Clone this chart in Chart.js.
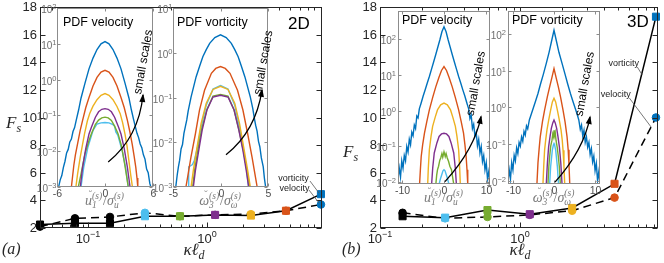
<!DOCTYPE html>
<html lang="en">
<head>
<meta charset="UTF-8">
<title>Flatness vs kappa l_d, 2D and 3D</title>
<script src="https://cdn.jsdelivr.net/npm/chart.js@4.4.0/dist/chart.umd.min.js"></script>
<style>
  body { margin: 0; background: #fff; }
  #wrap { position: relative; width: 664px; height: 263px; background: #fff; }
  #wrap canvas { position: absolute; left: 0; top: 0; }
</style>
</head>
<body>
<div id="wrap">
  <canvas id="mainA" width="664" height="263"></canvas>
  <canvas id="mainB" width="664" height="263"></canvas>
  <canvas id="insA1" width="664" height="263"></canvas>
  <canvas id="insA2" width="664" height="263"></canvas>
  <canvas id="insB1" width="664" height="263"></canvas>
  <canvas id="insB2" width="664" height="263"></canvas>
</div>
<script>
// ---- main panels: flatness F_s against kappa*l_d ----
const kldA  = [0.0395, 0.0777, 0.153, 0.301, 0.593, 1.17, 2.34, 4.61, 9.07];
const vortA = [2.25, 2.35, 2.35, 2.85, 2.85, 2.95, 2.9, 3.25, 4.45];
const velA  = [2.1, 2.7, 2.8, 3.1, 2.85, 2.95, 3.0, 3.25, 3.7];
const colA  = ['#000', '#000', '#000', '#4DBEEE', '#77AC30', '#7E2F8E', '#EDB120', '#D95319', '#0072BD'];

const kldB  = [0.145, 0.292, 0.586, 1.175, 2.36, 4.74, 9.37];
const vortB = [2.85, 2.75, 3.3, 3.0, 3.45, 5.2, 17.3];
const velB  = [3.1, 2.7, 2.8, 2.95, 3.25, 4.2, 10.0];
const colB  = ['#000', '#4DBEEE', '#77AC30', '#7E2F8E', '#EDB120', '#D95319', '#0072BD'];

const yTicksMain = [2, 4, 6, 8, 10, 12, 14, 16, 18];
const xLabelsMain = [0.1, 1];

// ---- inset PDFs: [x, log10 pdf] ----
const vel2dBlue = [[-6.0,-3.4],[-5.8,-3.0],[-5.6,-2.8],[-5.4,-2.68],[-5.2,-2.45],[-5.0,-2.28],[-4.8,-2.05],[-4.6,-1.95],[-4.4,-1.74],[-4.2,-1.66],[-4.0,-1.45],[-3.8,-1.34],[-3.6,-1.14],[-3.3,-0.85],[-3.0,-0.52],[-2.5,-0.1],[-2.0,0.3],[-1.5,0.6],[-1.0,0.84],[-0.5,1.0],[0,1.06],[0.5,1.0],[1.0,0.84],[1.5,0.6],[2.0,0.3],[2.5,-0.1],[3.0,-0.52],[3.3,-0.85],[3.6,-1.14],[3.8,-1.32],[4.0,-1.5],[4.2,-1.62],[4.4,-1.8],[4.6,-1.9],[4.8,-2.1],[5.0,-2.22],[5.2,-2.5],[5.4,-2.6],[5.6,-2.9],[5.8,-3.05],[6.0,-3.4]];
const vel2dRed = [[-4.3,-3.2],[-4.2,-3.0],[-4.05,-2.7],[-3.9,-2.4],[-3.7,-2.1],[-3.4,-1.76],[-3.1,-1.42],[-2.8,-1.14],[-2.4,-0.78],[-2.0,-0.5],[-1.5,-0.18],[-1.0,0.06],[-0.5,0.21],[0,0.26],[0.5,0.21],[1.0,0.06],[1.5,-0.18],[2.0,-0.5],[2.4,-0.78],[2.8,-1.14],[3.1,-1.45],[3.4,-1.8],[3.65,-2.15],[3.85,-2.45],[4.0,-2.75],[4.1,-3.0],[4.2,-3.2]];
const vel2dYellow = [[-3.75,-3.2],[-3.64,-3.0],[-3.43,-2.64],[-3.1,-2.17],[-2.8,-1.8],[-2.55,-1.5],[-2.2,-1.15],[-1.9,-0.94],[-1.5,-0.74],[-1.0,-0.56],[-0.5,-0.44],[0,-0.39],[0.5,-0.44],[1.0,-0.56],[1.5,-0.75],[1.9,-0.95],[2.2,-1.2],[2.5,-1.52],[2.75,-1.85],[2.95,-2.2],[3.2,-2.64],[3.43,-3.0],[3.55,-3.2]];
const vel2dPurple = [[-3.2,-3.2],[-3.09,-3.0],[-2.8,-2.45],[-2.4,-1.92],[-2.0,-1.52],[-1.7,-1.33],[-1.2,-1.05],[-0.8,-0.9],[-0.4,-0.83],[0,-0.81],[0.4,-0.83],[0.8,-0.9],[1.2,-1.05],[1.7,-1.33],[2.0,-1.52],[2.4,-1.92],[2.8,-2.45],[3.13,-3.0],[3.25,-3.2]];
const vel2dGreen = [[-3.45,-3.2],[-3.34,-3.0],[-3.0,-2.64],[-2.5,-2.07],[-2.0,-1.7],[-1.7,-1.51],[-1.2,-1.25],[-0.8,-1.13],[-0.4,-1.07],[0,-1.05],[0.4,-1.07],[0.8,-1.14],[1.2,-1.3],[1.63,-1.51],[2.0,-1.8],[2.23,-2.07],[2.45,-2.35],[2.66,-2.64],[2.91,-3.0],[3.0,-3.2]];
const vel2dCyan = [[-3.1,-3.2],[-3.0,-3.0],[-2.66,-2.45],[-2.14,-1.89],[-1.5,-1.42],[-1.0,-1.24],[-0.5,-1.21],[0,-1.2],[0.5,-1.21],[1.0,-1.26],[1.2,-1.3],[1.35,-1.46],[1.6,-1.55],[2.14,-1.98],[2.57,-2.45],[2.91,-3.0],[3.0,-3.2]];

const vort2dBlue = [[-4.85,-3.2],[-4.71,-3.0],[-4.55,-2.72],[-4.43,-2.55],[-4.3,-2.4],[-4.15,-2.15],[-4.0,-2.05],[-3.85,-1.8],[-3.7,-1.65],[-3.55,-1.5],[-3.4,-1.3],[-3.1,-0.99],[-2.57,-0.54],[-2.2,-0.3],[-1.86,-0.09],[-1.5,0.07],[-1.14,0.21],[-0.6,0.34],[0,0.40],[0.6,0.34],[1.14,0.21],[1.5,0.07],[1.86,-0.09],[2.2,-0.3],[2.57,-0.54],[3.14,-0.99],[3.4,-1.25],[3.55,-1.45],[3.7,-1.62],[3.85,-1.75],[4.0,-1.98],[4.14,-2.1],[4.3,-2.35],[4.5,-2.55],[4.62,-2.8],[4.75,-3.0],[4.9,-3.2]];
const vort2dRed = [[-3.75,-3.2],[-3.64,-3.0],[-3.46,-2.78],[-3.11,-2.33],[-2.64,-1.81],[-2.21,-1.28],[-1.68,-0.84],[-0.96,-0.46],[-0.5,-0.35],[0,-0.31],[0.5,-0.35],[1.0,-0.46],[1.79,-0.84],[2.36,-1.28],[2.86,-1.81],[3.32,-2.33],[3.68,-2.78],[3.86,-3.0],[3.95,-3.2]];
const vort2dYellow = [[-3.2,-3.2],[-3.1,-3.0],[-2.86,-2.63],[-2.46,-2.1],[-2.04,-1.58],[-1.5,-1.13],[-0.79,-0.82],[0,-0.75],[0.79,-0.82],[1.5,-1.13],[2.0,-1.58],[2.43,-2.1],[2.86,-2.63],[3.14,-3.0],[3.25,-3.2]];
const vort2dPurple = [[-2.95,-3.2],[-2.86,-3.0],[-2.64,-2.63],[-2.29,-2.18],[-1.93,-1.73],[-1.43,-1.28],[-0.79,-0.99],[0,-0.95],[0.79,-0.99],[1.43,-1.28],[1.93,-1.73],[2.36,-2.18],[2.71,-2.63],[2.96,-3.0],[3.05,-3.2]];
const vort2dGreen = [[-3.0,-3.2],[-2.93,-3.0],[-2.71,-2.6],[-2.36,-2.14],[-1.96,-1.69],[-1.43,-1.27],[-0.79,-0.97],[0,-0.93],[0.79,-0.97],[1.43,-1.28],[1.96,-1.74],[2.43,-2.21],[2.82,-2.67],[3.07,-3.0],[3.15,-3.2]];
const vort2dCyan = [[-3.4,-3.2],[-3.35,-2.55],[-3.1,-2.52],[-2.95,-2.5],[-2.75,-2.4],[-2.4,-2.1],[-2.04,-1.66],[-1.5,-1.17],[-0.79,-0.81],[0,-0.73],[0.79,-0.81],[1.5,-1.17],[2.0,-1.66],[2.36,-2.1],[2.71,-2.55],[2.96,-3.0],[3.05,-3.2]];

const vel3dBlue = [[-11,-1.9],[-10.7,-1.6],[-10.4,-1.85],[-10.1,-1.4],[-9.8,-1.6],[-9.5,-1.25],[-9.2,-1.4],[-8.9,-1.0],[-8.6,-1.15],[-8.3,-0.8],[-8.0,-0.95],[-7.7,-0.6],[-7.4,-0.7],[-7.1,-0.4],[-6.8,-0.5],[-6.5,-0.15],[-6.2,-0.2],[-5.9,0.05],[-5.5,0.2],[-5,0.4],[-4.5,0.58],[-4,0.77],[-3.5,0.95],[-3,1.15],[-2.5,1.35],[-2,1.55],[-1.5,1.76],[-1,1.97],[-0.5,2.2],[0,2.34],[0.5,2.2],[1,1.97],[1.5,1.76],[2,1.55],[2.5,1.35],[3,1.15],[3.5,0.95],[4,0.77],[4.5,0.58],[5,0.4],[5.5,0.2],[5.9,0.05],[6.2,-0.22],[6.5,-0.12],[6.8,-0.5],[7.1,-0.38],[7.4,-0.72],[7.7,-0.6],[8.0,-0.98],[8.3,-0.8],[8.6,-1.18],[8.9,-1.0],[9.2,-1.42],[9.5,-1.25],[9.8,-1.65],[10.1,-1.45],[10.4,-1.9],[10.7,-1.7],[11,-2.0]];
const vel3dRed = [[-6.0,-2.3],[-5.84,-2.05],[-5.65,-1.65],[-5.45,-1.28],[-5.1,-0.95],[-4.67,-0.63],[-4.1,-0.3],[-3.5,0.02],[-2.7,0.37],[-1.95,0.67],[-1.2,0.93],[-0.6,1.12],[0,1.23],[0.6,1.12],[1.2,0.93],[1.95,0.67],[2.7,0.37],[3.5,0.02],[4.1,-0.3],[4.67,-0.63],[5.0,-0.95],[5.29,-1.28],[5.5,-1.65],[5.68,-2.05],[5.8,-2.3]];
const vel3dYellow = [[-4.0,-2.3],[-3.9,-2.05],[-3.75,-1.6],[-3.5,-1.09],[-3.1,-0.72],[-2.72,-0.44],[-2.1,-0.18],[-1.56,0.02],[-0.8,0.16],[0,0.21],[0.8,0.16],[1.56,0.02],[2.1,-0.18],[2.72,-0.44],[3.1,-0.72],[3.5,-1.09],[3.75,-1.6],[3.9,-2.05],[4.0,-2.3]];
const vel3dPurple = [[-3.1,-2.3],[-2.96,-2.05],[-2.7,-1.6],[-2.33,-1.18],[-1.7,-0.9],[-1.17,-0.72],[-0.6,-0.65],[0,-0.63],[0.6,-0.65],[1.17,-0.72],[1.7,-0.9],[2.33,-1.18],[2.7,-1.6],[2.96,-2.05],[3.1,-2.3]];
const vel3dGreen = [[-2.1,-2.3],[-1.95,-2.05],[-1.75,-1.8],[-1.56,-1.65],[-1.3,-1.55],[-1.0,-1.38],[-0.78,-1.32],[-0.5,-1.2],[-0.3,-1.3],[0,-1.15],[0.3,-1.28],[0.5,-1.2],[0.78,-1.32],[1.1,-1.42],[1.4,-1.55],[1.79,-1.65],[2.05,-1.85],[2.33,-2.05],[2.45,-2.3]];
const vel3dCyan = [[-1.3,-2.3],[-1.17,-2.05],[-0.85,-1.9],[-0.54,-1.79],[-0.25,-1.68],[0,-1.65],[0.25,-1.68],[0.54,-1.79],[0.85,-1.9],[1.17,-2.05],[1.3,-2.3]];

const vort3dBlue = [[-11.2,-2.0],[-10.9,-1.7],[-10.6,-1.95],[-10.3,-1.5],[-10.0,-1.7],[-9.7,-1.3],[-9.4,-1.45],[-9.1,-1.1],[-8.8,-1.25],[-8.5,-0.95],[-8.2,-1.05],[-7.9,-0.8],[-7.6,-0.92],[-7.3,-0.65],[-7.0,-0.75],[-6.7,-0.5],[-6.4,-0.58],[-6.0,-0.34],[-5.5,-0.17],[-5,0.0],[-4.5,0.17],[-3.9,0.38],[-3.3,0.63],[-2.6,0.9],[-1.88,1.2],[-1.2,1.5],[-0.6,1.8],[0,2.1],[0.6,1.8],[1.2,1.5],[1.96,1.2],[2.7,0.9],[3.35,0.63],[4.0,0.38],[4.6,0.17],[5.1,0.0],[5.6,-0.17],[6.04,-0.34],[6.4,-0.6],[6.7,-0.48],[7.0,-0.78],[7.3,-0.62],[7.6,-0.95],[7.9,-0.8],[8.2,-1.08],[8.5,-0.95],[8.8,-1.28],[9.1,-1.12],[9.4,-1.48],[9.7,-1.32],[10.0,-1.72],[10.3,-1.52],[10.6,-1.98],[10.9,-1.75],[11.2,-2.1]];
const vort3dRed = [[-4.3,-2.3],[-4.16,-2.09],[-3.9,-1.5],[-3.6,-1.1],[-3.35,-0.8],[-2.8,-0.38],[-2.29,-0.07],[-1.6,0.3],[-1.06,0.56],[-0.5,0.82],[0,1.06],[0.5,0.82],[1.06,0.56],[1.6,0.28],[2.2,-0.07],[2.7,-0.4],[3.18,-0.8],[3.45,-1.15],[3.65,-1.55],[3.84,-2.09],[3.95,-2.3]];
const vort3dYellow = [[-2.8,-2.3],[-2.69,-2.09],[-2.5,-1.6],[-2.29,-1.16],[-2.0,-0.86],[-1.71,-0.61],[-1.25,-0.32],[-0.82,-0.07],[-0.4,0.15],[0,0.25],[0.4,0.15],[0.82,-0.07],[1.25,-0.32],[1.71,-0.61],[2.0,-0.88],[2.2,-1.16],[2.42,-1.6],[2.61,-2.09],[2.7,-2.3]];
const vort3dPurple = [[-2.0,-2.3],[-1.88,-2.09],[-1.6,-1.5],[-1.31,-1.07],[-0.95,-0.78],[-0.65,-0.57],[-0.3,-0.42],[0,-0.34],[0.3,-0.42],[0.65,-0.57],[0.95,-0.78],[1.31,-1.07],[1.65,-1.5],[1.96,-2.09],[2.05,-2.3]];
const vort3dGreen = [[-1.6,-2.3],[-1.47,-2.09],[-1.25,-1.6],[-1.06,-1.34],[-0.8,-1.05],[-0.49,-0.89],[-0.3,-0.72],[-0.1,-0.8],[0,-0.62],[0.15,-0.75],[0.3,-0.68],[0.49,-0.89],[0.8,-1.1],[1.06,-1.34],[1.3,-1.62],[1.55,-2.09],[1.65,-2.3]];
const vort3dCyan = [[-1.2,-2.3],[-1.06,-2.09],[-0.82,-1.61],[-0.41,-1.16],[-0.15,-1.02],[0,-0.98],[0.15,-1.02],[0.41,-1.16],[0.82,-1.61],[1.1,-2.09],[1.2,-2.3]];

const pdfColors = ['#0072BD', '#D95319', '#EDB120', '#7E2F8E', '#77AC30', '#4DBEEE'];

const SANS = '"Liberation Sans", Arial, sans-serif';
const SERIF = '"Liberation Serif", "DejaVu Serif", serif';

// draw a row of text pieces (with optional sub/superscript stacks)
function drawMath(ctx, parts, x, y, align, color) {
  const ws = parts.map(p => {
    ctx.font = p.f;
    if (p.t !== undefined) return ctx.measureText(p.t).width;
    return Math.max(ctx.measureText(p.sub || '').width, ctx.measureText(p.sup || '').width) + 1;
  });
  const w = ws.reduce((s, v) => s + v, 0);
  let cx = align === 'center' ? x - w / 2 : align === 'right' ? x - w : x;
  ctx.fillStyle = color;
  ctx.textAlign = 'left';
  ctx.textBaseline = 'alphabetic';
  parts.forEach((p, i) => {
    ctx.font = p.f;
    if (p.t !== undefined) {
      ctx.fillText(p.t, cx, y + (p.dy || 0));
      if (p.breve) {
        ctx.font = 'italic 10px ' + SERIF;
        ctx.textAlign = 'center';
        ctx.fillText('˘', cx + ws[i] / 2 + 1, y - 7);
        ctx.textAlign = 'left';
      }
    } else {
      if (p.sub) ctx.fillText(p.sub, cx, y + 3);
      if (p.sup) ctx.fillText(p.sup, cx, y - 6);
    }
    cx += ws[i];
  });
}

function drawPow10(ctx, e, x, y, bSize, eSize, raise, align, color) {
  const exp = e < 0 ? '−' + (-e) : String(e);
  drawMath(ctx, [{t: '10', f: bSize + 'px ' + SANS}, {t: exp, f: eSize + 'px ' + SANS, dy: -raise}], x, y, align, color);
}

function mainDeco(cfg) {
  return {
    id: 'mainDeco',
    afterDraw(chart) {
      const {ctx, chartArea: a, scales: {x, y}} = chart;
      ctx.save();
      const L = Math.round(a.left) + 0.5, R = Math.round(a.right) - 0.5;
      const T = Math.round(a.top) + 0.5, B = Math.round(a.bottom) - 0.5;
      ctx.strokeStyle = '#262626';
      ctx.lineWidth = 1;
      ctx.strokeRect(L, T, R - L, B - T);

      ctx.font = '13px ' + SANS;
      ctx.fillStyle = '#262626';
      ctx.textAlign = 'right';
      ctx.textBaseline = 'middle';
      yTicksMain.forEach(v => {
        const py = Math.round(y.getPixelForValue(v)) + 0.5;
        ctx.beginPath();
        ctx.moveTo(L, py); ctx.lineTo(L + 5, py);
        ctx.moveTo(R, py); ctx.lineTo(R - 5, py);
        ctx.stroke();
        ctx.fillText(String(v), a.left - 3, py);
      });

      const lo = Math.floor(Math.log10(x.min)), hi = Math.ceil(Math.log10(x.max));
      for (let k = lo; k <= hi; k++) {
        for (let m = 1; m <= 9; m++) {
          const v = m * Math.pow(10, k);
          if (v < x.min || v > x.max) continue;
          const px = Math.round(x.getPixelForValue(v)) + 0.5;
          if (px < L + 2 || px > R - 2) continue;
          const len = m === 1 ? 5 : 3;
          ctx.beginPath();
          ctx.moveTo(px, B); ctx.lineTo(px, B - len);
          ctx.moveTo(px, T); ctx.lineTo(px, T + len);
          ctx.stroke();
        }
      }
      xLabelsMain.forEach(v => {
        drawPow10(ctx, Math.round(Math.log10(v)), x.getPixelForValue(v), 243, 13, 9, 6, 'center', '#262626');
      });

      // axis labels
      const I17 = 'italic 17px ' + SERIF, I12 = 'italic 12px ' + SERIF;
      drawMath(ctx, [{t: 'F', f: I17}, {t: 's', f: I12, dy: 4}], cfg.fsPos[0], cfg.fsPos[1], 'left', '#262626');
      drawMath(ctx, [{t: 'κℓ', f: I17}, {t: 'd', f: I12, dy: 4}], cfg.klPos[0], cfg.klPos[1], 'center', '#262626');
      drawMath(ctx, [{t: cfg.panel, f: 'italic 16px ' + SERIF}], cfg.panelPos[0], cfg.panelPos[1], 'left', '#262626');
      drawMath(ctx, [{t: cfg.dim, f: '17px ' + SANS}], cfg.dimPos[0], cfg.dimPos[1], 'left', '#000');

      // leader labels
      const P = p => [x.getPixelForValue(p[0]), y.getPixelForValue(p[1])];
      ctx.strokeStyle = '#555';
      ctx.lineWidth = 0.8;
      cfg.leaders.forEach(l => {
        const s = P(l[0]), e = P(l[1]);
        ctx.beginPath(); ctx.moveTo(s[0], s[1]); ctx.lineTo(e[0], e[1]); ctx.stroke();
      });
      cfg.notes.forEach(n => {
        const p = P(n.at);
        drawMath(ctx, [{t: n.text, f: '9px ' + SANS}], p[0], p[1], 'left', '#222');
      });
      ctx.restore();
    }
  };
}

function mainChart(id, area, xs, vort, vel, colors, xRange, cfg) {
  return new Chart(document.getElementById(id), {
    type: 'line',
    data: {
      datasets: [
        {
          label: 'velocity',
          data: xs.map((v, i) => ({x: v, y: vel[i]})),
          borderColor: '#000', borderWidth: 1.5, borderDash: [8, 5],
          pointStyle: 'circle', pointRadius: 3.8,
          pointBackgroundColor: colors, pointBorderColor: colors, pointBorderWidth: 1,
          clip: false
        },
        {
          label: 'vorticity',
          data: xs.map((v, i) => ({x: v, y: vort[i]})),
          borderColor: '#000', borderWidth: 1.5,
          pointStyle: 'rect', pointRadius: 5,
          pointBackgroundColor: colors, pointBorderColor: colors, pointBorderWidth: 1,
          clip: false
        }
      ]
    },
    options: {
      responsive: false, animation: false, devicePixelRatio: 1,
      layout: {padding: {left: area[0], top: area[1], right: 664 - area[2], bottom: 263 - area[3]}},
      plugins: {legend: {display: false}, tooltip: {enabled: false}},
      elements: {line: {tension: 0}},
      scales: {
        x: {type: 'logarithmic', min: xRange[0], max: xRange[1], display: false},
        y: {type: 'linear', min: 2, max: 18, display: false}
      }
    },
    plugins: [mainDeco(cfg)]
  });
}

function insetDeco(cfg) {
  return {
    id: 'insetDeco',
    beforeDraw(chart) {
      const {ctx, chartArea: a} = chart;
      ctx.save();
      ctx.fillStyle = '#fff';
      ctx.fillRect(a.left, a.top, a.right - a.left, a.bottom - a.top);
      ctx.restore();
    },
    afterDraw(chart) {
      const {ctx, chartArea: a, scales: {x, y}} = chart;
      ctx.save();
      const L = Math.round(a.left) + 0.5, R = Math.round(a.right) - 0.5;
      const T = Math.round(a.top) + 0.5, B = Math.round(a.bottom) - 0.5;
      ctx.strokeStyle = '#8c8c8c';
      ctx.lineWidth = 1;
      ctx.strokeRect(L, T, R - L, B - T);

      cfg.decades.forEach(e => {
        const py = Math.round(y.getPixelForValue(Math.pow(10, e))) + 0.5;
        ctx.beginPath();
        ctx.moveTo(L, py); ctx.lineTo(L + 3, py);
        ctx.moveTo(R, py); ctx.lineTo(R - 3, py);
        ctx.stroke();
        drawPow10(ctx, e, a.left - cfg.labelGap, py + 4.5, 10, 7.5, 4, 'right', '#6e6e6e');
      });
      cfg.xTicks.forEach(v => {
        const px = Math.round(x.getPixelForValue(v)) + 0.5;
        ctx.beginPath();
        ctx.moveTo(px, B); ctx.lineTo(px, B - 3);
        ctx.moveTo(px, T); ctx.lineTo(px, T + 3);
        ctx.stroke();
        drawMath(ctx, [{t: v < 0 ? '-' + (-v) : String(v), f: '10.5px ' + SANS}], px, a.bottom + 10, 'center', '#4d4d4d');
      });

      // x label  (breve variable / sigma)
      const I14 = 'italic 14px ' + SERIF, I9 = 'italic 9.5px ' + SERIF;
      drawMath(ctx, [
        {t: cfg.varName, f: I14, breve: true},
        {sub: cfg.varSub, sup: '(s)', f: I9},
        {t: '/', f: '14px ' + SERIF},
        {t: 'σ', f: I14},
        {sub: cfg.sigSub, sup: '(s)', f: I9}
      ], (a.left + a.right) / 2, a.bottom + 18, 'center', '#7a7a7a');

      // title
      drawMath(ctx, [{t: cfg.title, f: '12.5px ' + SANS}], a.left + cfg.titleOff[0], a.top + cfg.titleOff[1], 'left', '#000');

      // arrow and "small scales"
      const P = p => [x.getPixelForValue(p[0]), y.getPixelForValue(Math.pow(10, p[1]))];
      const s = P(cfg.arrow[0]), c = P(cfg.arrow[1]), e = P(cfg.arrow[2]);
      ctx.strokeStyle = '#000';
      ctx.fillStyle = '#000';
      ctx.lineWidth = 1.3;
      ctx.beginPath();
      ctx.moveTo(s[0], s[1]);
      ctx.quadraticCurveTo(c[0], c[1], e[0], e[1]);
      ctx.stroke();
      const ang = Math.atan2(e[1] - c[1], e[0] - c[0]);
      const hl = 7, hw = 3;
      ctx.beginPath();
      ctx.moveTo(e[0] + 1.5 * Math.cos(ang), e[1] + 1.5 * Math.sin(ang));
      ctx.lineTo(e[0] - hl * Math.cos(ang) + hw * Math.sin(ang), e[1] - hl * Math.sin(ang) - hw * Math.cos(ang));
      ctx.lineTo(e[0] - hl * Math.cos(ang) - hw * Math.sin(ang), e[1] - hl * Math.sin(ang) + hw * Math.cos(ang));
      ctx.closePath();
      ctx.fill();

      const tp = P(cfg.scalesAt);
      ctx.translate(tp[0], tp[1]);
      ctx.rotate(-80 * Math.PI / 180);
      ctx.font = '12px ' + SANS;
      ctx.textAlign = 'center';
      ctx.textBaseline = 'middle';
      ctx.fillText('small scales', 0, 0);
      ctx.restore();
    }
  };
}

function insetChart(id, area, xRange, yRange, curves, cfg) {
  return new Chart(document.getElementById(id), {
    type: 'line',
    data: {
      datasets: curves.map((c, i) => ({
        data: c.map(p => ({x: p[0], y: Math.pow(10, p[1])})),
        borderColor: pdfColors[i], borderWidth: 1.4, pointRadius: 0
      }))
    },
    options: {
      responsive: false, animation: false, devicePixelRatio: 1,
      layout: {padding: {left: area[0], top: area[1], right: 664 - area[2], bottom: 263 - area[3]}},
      plugins: {legend: {display: false}, tooltip: {enabled: false}},
      elements: {line: {tension: 0}},
      scales: {
        x: {type: 'linear', min: xRange[0], max: xRange[1], display: false},
        y: {type: 'logarithmic', min: yRange[0], max: yRange[1], display: false}
      }
    },
    plugins: [insetDeco(cfg)]
  });
}

mainChart('mainA', [40, 7, 322, 228], kldA, vortA, velA, colA, [0.0395, 9.26], {
  fsPos: [6, 128], klPos: [194, 255], panel: '(a)', panelPos: [2, 254], dim: '2D', dimPos: [288, 29],
  notes: [{text: 'vorticity', at: [3.98, 5.40]}, {text: 'velocity', at: [4.07, 4.68]}],
  leaders: [[[7.34, 5.40], [8.74, 4.53]], [[7.2, 4.75], [8.74, 3.81]]]
});
mainChart('mainB', [380, 7, 662, 228], kldB, vortB, velB, colB, [0.1, 9.69], {
  fsPos: [343, 157], klPos: [520, 255], panel: '(b)', panelPos: [342, 254], dim: '3D', dimPos: [627, 27],
  notes: [{text: 'vorticity', at: [4.30, 13.73]}, {text: 'velocity', at: [3.78, 11.48]}],
  leaders: [[[6.89, 13.66], [7.47, 13.08]], [[6.05, 11.41], [8.65, 9.31]]]
});

insetChart('insA1', [57, 8, 153, 187], [-6, 6], [1e-3, 1e2],
  [vel2dBlue, vel2dRed, vel2dYellow, vel2dPurple, vel2dGreen, vel2dCyan], {
    decades: [-3, -2, -1, 0, 1, 2], xTicks: [-6, 0, 6], labelGap: 0.5,
    varName: 'u', varSub: '1', sigSub: 'u', title: 'PDF velocity', titleOff: [6, 18],
    arrow: [[0.4, -2.3], [4.22, -1.61], [4.75, -0.43]], scalesAt: [4.81, 0.49]
  });
insetChart('insA2', [173, 8, 268, 187], [-5, 5], [1e-3, 1e1],
  [vort2dBlue, vort2dRed, vort2dYellow, vort2dPurple, vort2dGreen, vort2dCyan], {
    decades: [-3, -2, -1, 0, 1], xTicks: [-5, 0, 5], labelGap: 0.5,
    varName: 'ω', varSub: '3', sigSub: 'ω', title: 'PDF vorticity', titleOff: [4, 18],
    arrow: [[0.58, -2.28], [3.72, -1.75], [4.37, -0.83]], scalesAt: [4.53, -0.22]
  });
insetChart('insB1', [398, 11, 490, 184], [-11, 11], [0.009, 600],
  [vel3dBlue, vel3dRed, vel3dYellow, vel3dPurple, vel3dGreen, vel3dCyan], {
    decades: [-2, -1, 0, 1, 2], xTicks: [-10, 0, 10], labelGap: 2,
    varName: 'u', varSub: '1', sigSub: 'u', title: 'PDF velocity', titleOff: [4, 13],
    arrow: [[0.24, -1.98], [7.3, -1.08], [8.85, -0.17]], scalesAt: [7.66, 0.76]
  });
insetChart('insB2', [508, 11, 600, 184], [-11.2, 11.2], [0.0083, 420],
  [vort3dBlue, vort3dRed, vort3dYellow, vort3dPurple, vort3dGreen, vort3dCyan], {
    decades: [-2, -1, 0, 1, 2], xTicks: [-10, 0, 10], labelGap: 2,
    varName: 'ω', varSub: '3', sigSub: 'ω', title: 'PDF vorticity', titleOff: [4, 13],
    arrow: [[0.24, -2.03], [7.3, -1.14], [8.77, -0.26]], scalesAt: [7.55, 0.64]
  });
</script>
</body>
</html>
